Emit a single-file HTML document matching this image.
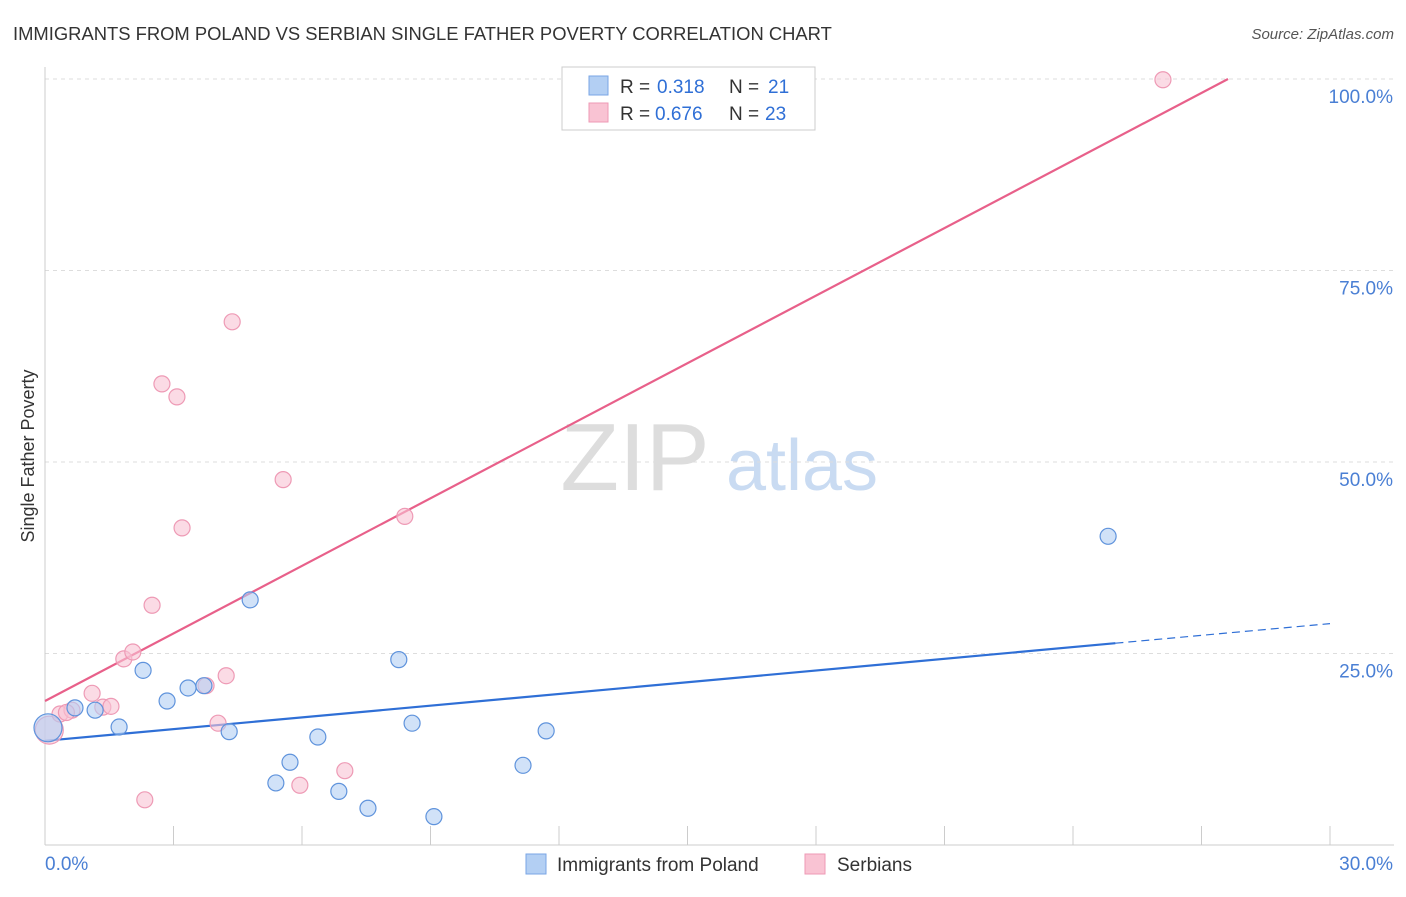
<!DOCTYPE html>
<html><head><meta charset="utf-8">
<style>
body{margin:0;background:#fff;font-family:"Liberation Sans",sans-serif;}
svg text{font-family:"Liberation Sans",sans-serif;}
</style></head>
<body>
<svg id="chart" width="1406" height="892" viewBox="0 0 1406 892" xmlns="http://www.w3.org/2000/svg">
<text x="13" y="40" font-size="18.4" fill="#333">IMMIGRANTS FROM POLAND VS SERBIAN SINGLE FATHER POVERTY CORRELATION CHART</text>
<text x="1394" y="39" font-size="15" fill="#555" text-anchor="end" font-style="italic">Source: ZipAtlas.com</text>
<g>
<text x="635" y="490" font-size="96" fill="#ddd" text-anchor="middle" font-family="Liberation Serif">ZIP</text>
<text x="802" y="490" font-size="72" fill="#c9dbf2" text-anchor="middle">atlas</text>
</g>
<text transform="translate(34,456) rotate(-90)" font-size="18" fill="#333" text-anchor="middle">Single Father Poverty</text>
<g id="grid"></g>
<g id="axes"></g>
<g id="lines"></g>
<g id="points"></g>
<g>
<rect x="562" y="67" width="253" height="63" fill="#fff" stroke="#ccc"/>
<rect x="589" y="76" width="19" height="19" fill="#b3cff3" stroke="#7aa6e4"/>
<text x="620" y="93" font-size="19" fill="#333">R =</text>
<text x="657" y="93" font-size="19" fill="#2f6fd6">0.318</text>
<text x="729" y="93" font-size="19" fill="#333">N =</text>
<text x="768" y="93" font-size="19" fill="#2f6fd6">21</text>
<rect x="589" y="103" width="19" height="19" fill="#f9c3d3" stroke="#ee9ab5"/>
<text x="620" y="120" font-size="19" fill="#333">R =</text>
<text x="655" y="120" font-size="19" fill="#2f6fd6">0.676</text>
<text x="729" y="120" font-size="19" fill="#333">N =</text>
<text x="765" y="120" font-size="19" fill="#2f6fd6">23</text>
</g>
<g>
<rect x="526" y="854" width="20" height="20" fill="#b3cff3" stroke="#7aa6e4"/>
<text x="557" y="871" font-size="19" fill="#333">Immigrants from Poland</text>
<rect x="805" y="854" width="20" height="20" fill="#f9c3d3" stroke="#ee9ab5"/>
<text x="837" y="871" font-size="19" fill="#333">Serbians</text>
</g>
</svg>
<script>
const polandX=[0.07,0.7,1.17,1.73,2.29,2.85,3.34,3.71,4.3,4.79,5.39,5.72,6.37,6.86,7.54,8.26,8.57,9.08,11.16,11.7,24.82];
const polandY=[15.3,17.9,17.6,15.4,22.8,18.8,20.5,20.8,14.8,32.0,8.1,10.8,14.1,7.0,4.8,24.2,15.9,3.7,10.4,14.9,40.3];
const serbX=[0.1,0.35,0.63,1.1,1.35,1.54,1.84,2.05,2.33,2.5,2.73,3.08,3.2,3.76,4.04,4.23,4.37,5.56,5.95,7.0,8.4,26.1,0.5];
const serbY=[15.0,17.1,17.6,19.8,18.0,18.1,24.3,25.2,5.9,31.3,60.2,58.5,41.4,20.8,15.9,22.1,68.3,47.7,7.8,9.7,42.9,99.9,17.3];
const polandFit=[13.6,0.51]; // intercept, slope
const serbFit=[18.8,2.94];
const yTicks=[25,50,75,100];
const yTickLabels=["25.0%","50.0%","75.0%","100.0%"];
const xTicks=[0,3,6,9,12,15,18,21,24,27,30];
const NS="http://www.w3.org/2000/svg";
const X=v=>45+v/30*1285, Y=v=>845-v/100*766;
function mk(tag,attrs,parent){const e=document.createElementNS(NS,tag);for(const k in attrs)e.setAttribute(k,attrs[k]);document.getElementById(parent).appendChild(e);return e;}
yTicks.forEach((t,i)=>{
 const g=mk('line',{x1:45,x2:1394,y1:Y(t),y2:Y(t),stroke:'#ddd','stroke-dasharray':'4,4'},'grid');
 
 
 const l=mk('text',{x:1393,y:Y(t)+24,'font-size':19,fill:'#4a7fd4','text-anchor':'end'},'axes');
 l.textContent=yTickLabels[i];
 
 
});
const topGrid=mk('line',{x1:45,x2:1394,y1:79,y2:79,stroke:'#ddd','stroke-dasharray':'4,4'},'grid');


const ax=mk('line',{x1:45,x2:1394,y1:845,y2:845,stroke:'#ccc'},'axes');


const ay=mk('line',{x1:45,x2:45,y1:67,y2:845,stroke:'#ccc'},'axes');


xTicks.forEach(t=>{
 const e=mk('line',{x1:X(t),x2:X(t),y1:826,y2:845,stroke:'#ccc'},'axes');
 
 
});
const xl0=mk('text',{x:45,y:870,'font-size':19,fill:'#4a7fd4'},'axes');xl0.textContent='0.0%';


const xl1=mk('text',{x:1393,y:870,'font-size':19,fill:'#4a7fd4','text-anchor':'end'},'axes');xl1.textContent='30.0%';


const bEnd=Math.max(...polandX)+0.17;
const bl=mk('line',{x1:X(0),y1:Y(polandFit[0]),x2:X(bEnd),y2:Y(polandFit[0]+polandFit[1]*bEnd),stroke:'#2f6fd6','stroke-width':2.2},'lines');


const bd=mk('line',{x1:X(bEnd),y1:Y(polandFit[0]+polandFit[1]*bEnd),x2:X(30),y2:Y(polandFit[0]+polandFit[1]*30),stroke:'#2f6fd6','stroke-width':1.2,'stroke-dasharray':'8,5'},'lines');


const pEnd=(100-serbFit[0])/serbFit[1];
const pl=mk('line',{x1:X(0),y1:Y(serbFit[0]),x2:X(pEnd),y2:Y(100),stroke:'#e8608a','stroke-width':2.2},'lines');


serbX.forEach((x,i)=>{
 const c=mk('circle',{cx:X(x),cy:Y(serbY[i]),r:i===0?14:8,fill:'#f9c3d3','fill-opacity':0.6,stroke:'#ee9ab5','stroke-width':1.2},'points');
 
 
});
polandX.forEach((x,i)=>{
 const c=mk('circle',{cx:X(x),cy:Y(polandY[i]),r:i===0?14:8,fill:'#b3cff3','fill-opacity':0.6,stroke:'#5f93dc','stroke-width':1.2},'points');
 
 
});
</script>
</body></html>
